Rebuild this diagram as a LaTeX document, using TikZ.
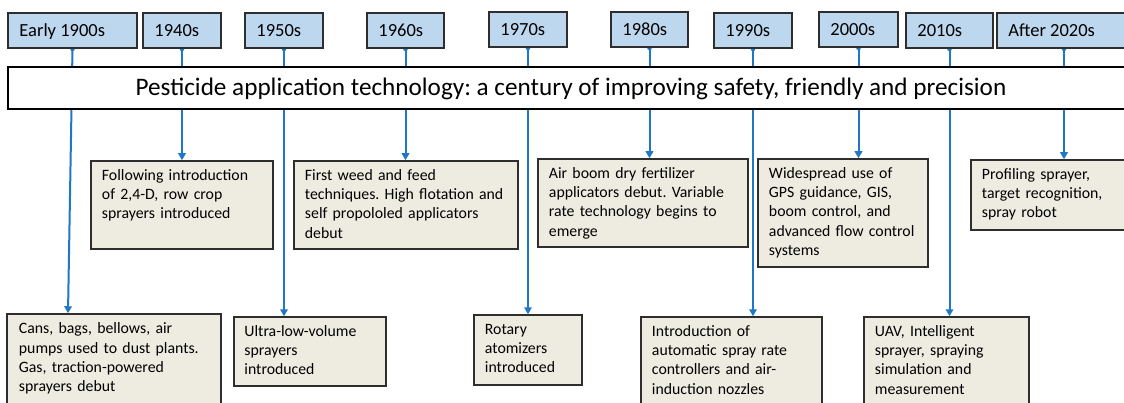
\documentclass[tikz,border=0pt]{standalone}
\usepackage{fontspec}
\setmainfont{Carlito}
\usetikzlibrary{arrows.meta,fit,backgrounds}
\frenchspacing

\definecolor{yearfill}{HTML}{BDD7EE}
\definecolor{descfill}{HTML}{EEECE1}
\definecolor{edgecol}{HTML}{2E2E2E}
\definecolor{linkcol}{HTML}{1F78C6}

\tikzset{
  yearbox/.style={draw=edgecol, fill=yearfill, line width=1.5pt, inner sep=0pt},
  yeartext/.style={anchor=base west, inner sep=0pt, font=\fontsize{18.5}{22}\selectfont},
  descbox/.style={draw=edgecol, fill=descfill, line width=1.5pt, inner sep=0pt},
  desctext/.style={anchor=base west, inner sep=0pt, text width=220pt, align=left,
    font=\fontsize{15.8}{19.3}\selectfont},
  titlebox/.style={draw=black, fill=white, line width=2pt, inner sep=0pt},
  titletext/.style={anchor=base, inner sep=0pt, font=\fontsize{25.2}{30}\selectfont},
  link/.style={draw=linkcol, line width=2pt, -{Triangle[length=7pt,width=7.5pt]}},
  linkroot/.style={fill=linkcol},
}

\begin{document}
\begin{tikzpicture}[x=1pt,y=-1pt]
\useasboundingbox (0,0) rectangle (1124,403);

% decade labels along the top
\node[yearbox, fit={(8,13) (137,48)}]    (y1900) {};
\node[yearbox, fit={(143,13) (221,48)}]  (y1940) {};
\node[yearbox, fit={(245,13) (323,48)}]  (y1950) {};
\node[yearbox, fit={(367,13) (444,48)}]  (y1960) {};
\node[yearbox, fit={(489,12) (567,47)}]  (y1970) {};
\node[yearbox, fit={(611,12) (688,47)}]  (y1980) {};
\node[yearbox, fit={(714,13) (792,48)}]  (y1990) {};
\node[yearbox, fit={(819,12) (898,47)}]  (y2000) {};
\node[yearbox, fit={(906,13) (993,48)}]  (y2010) {};
\node[yearbox, fit={(997,13) (1131,48)}] (y2020) {};

\node[yeartext] (l1900) at ([shift={(12,24.5)}]y1900.north west) {Early 1900s};
\node[yeartext] (l1940) at ([shift={(12,24.5)}]y1940.north west) {1940s};
\node[yeartext] (l1950) at ([shift={(12,24.5)}]y1950.north west) {1950s};
\node[yeartext] (l1960) at ([shift={(12,24.5)}]y1960.north west) {1960s};
\node[yeartext] (l1970) at ([shift={(12,24.5)}]y1970.north west) {1970s};
\node[yeartext] (l1980) at ([shift={(12,24.5)}]y1980.north west) {1980s};
\node[yeartext] (l1990) at ([shift={(12,24.5)}]y1990.north west) {1990s};
\node[yeartext] (l2000) at ([shift={(12,24.5)}]y2000.north west) {2000s};
\node[yeartext] (l2010) at ([shift={(12,24.5)}]y2010.north west) {2010s};
\node[yeartext] (l2020) at ([shift={(12,24.5)}]y2020.north west) {After 2020s};

% title bar
\node[titlebox, fit={(8,67) (1134,109)}] (title) {};
\node[titletext] (titlet) at (571,96) {Pesticide application technology: a century of improving safety, friendly and precision};

% upper row of descriptions
\node[descbox, fit={(91,161) (273,249)}]   (d1940) {};
\node[descbox, fit={(294,161) (518,249)}]  (d1960) {};
\node[descbox, fit={(538,159) (748,247)}]  (d1980) {};
\node[descbox, fit={(758,159) (928,267)}]  (d2000) {};
\node[descbox, fit={(971,160) (1131,230)}] (d2020) {};

% lower row of descriptions
\node[descbox, fit={(7,314) (221,412)}]    (d1900) {};
\node[descbox, fit={(234,317) (386,386)}]  (d1950) {};
\node[descbox, fit={(474,315) (582,385)}]  (d1970) {};
\node[descbox, fit={(641,317) (822,412)}]  (d1990) {};
\node[descbox, fit={(864,317) (1029,412)}] (d2010) {};

\node[desctext] (x1940) at ([shift={(11.5,20)}]d1940.north west)
  {Following introduction\\of 2,4-D, row crop\\sprayers introduced};
\node[desctext] (x1960) at ([shift={(11.5,20)}]d1960.north west)
  {First weed and feed\\techniques. High flotation and\\self propololed applicators\\debut};
\node[desctext] (x1980) at ([shift={(11.5,20)}]d1980.north west)
  {Air boom dry fertilizer\\applicators debut. Variable\\rate technology begins to\\emerge};
\node[desctext] (x2000) at ([shift={(11.5,20)}]d2000.north west)
  {Widespread use of\\GPS guidance, GIS,\\boom control, and\\advanced flow control\\systems};
\node[desctext] (x2020) at ([shift={(11.5,20)}]d2020.north west)
  {Profiling sprayer,\\target recognition,\\spray robot};
\node[desctext] (x1900) at ([shift={(12.5,20.5)}]d1900.north west)
  {Cans, bags, bellows, air\\pumps used to dust plants.\\Gas, traction-powered\\sprayers debut};
\node[desctext] (x1950) at ([shift={(11,20)}]d1950.north west)
  {Ultra-low-volume\\sprayers\\introduced};
\node[desctext] (x1970) at ([shift={(11.5,20)}]d1970.north west)
  {Rotary\\atomizers\\introduced};
\node[desctext] (x1990) at ([shift={(11.5,20)}]d1990.north west)
  {Introduction of\\automatic spray rate\\controllers and air-\\induction nozzles};
\node[desctext] (x2010) at ([shift={(11.5,20)}]d2010.north west)
  {UAV, Intelligent\\sprayer, spraying\\simulation and\\measurement};

% connectors run behind the boxes and the title bar
\begin{scope}[on background layer]
  \fill[white] (0,0) rectangle (1124,403);
  \foreach \d in {1900,1940,1950,1960,1970,1980,1990,2000,2010,2020}
    \fill[linkroot] (y\d.south) circle (2.4pt);
  \draw[link] (y1900.south) -- ([xshift=-4.5pt]y1900.south |- d1900.north);
  \foreach \d in {1940,1950,1960,1970,1980,1990,2000,2010,2020}
    \draw[link] (y\d.south) -- (y\d.south |- d\d.north);
\end{scope}
\end{tikzpicture}
\end{document}
